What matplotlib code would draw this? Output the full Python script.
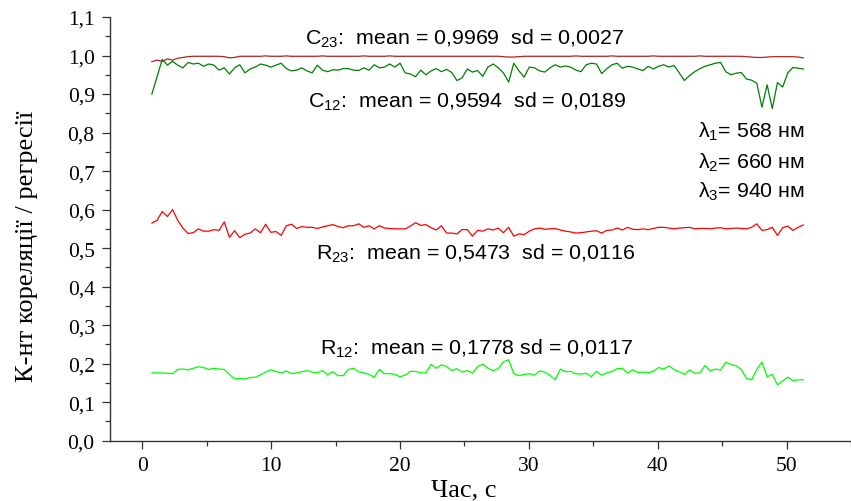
import numpy as np
import matplotlib.pyplot as plt
from matplotlib.ticker import MultipleLocator, FuncFormatter

plt.rcParams['font.family'] = ['Liberation Serif', 'DejaVu Serif']
plt.rcParams['mathtext.fontset'] = 'custom'
plt.rcParams['mathtext.rm'] = 'Liberation Sans'
plt.rcParams['mathtext.it'] = 'Liberation Sans:italic'

# correlation coefficient C23 (channels 2-3)
c23 = [0.984, 0.988, 0.985, 0.991, 0.988, 0.993, 0.995, 0.997, 0.998, 0.998,
       0.998, 0.998, 0.998, 0.998, 0.997, 0.994, 0.995, 0.998, 0.998, 0.998,
       0.998, 0.998, 0.999, 0.998, 0.998, 0.998, 0.999, 0.998, 0.998, 0.998,
       0.998, 0.998, 0.998, 0.999, 0.998, 0.998, 0.998, 0.998, 0.998, 0.998,
       0.998, 0.999, 0.998, 0.998, 0.998, 0.998, 0.999, 0.998, 0.998, 0.998,
       0.998, 0.998, 0.998, 0.998, 0.998, 0.998, 0.998, 0.998, 0.998, 0.998,
       0.998, 0.998, 0.998, 0.998, 0.998, 0.998, 0.998, 0.998, 0.997, 0.996,
       0.996, 0.997, 0.998, 0.998, 0.998, 0.998, 0.998, 0.998, 0.998, 0.998,
       0.998, 0.998, 0.999, 0.998, 0.998, 0.998, 0.998, 0.998, 0.998, 0.999,
       0.998, 0.998, 0.998, 0.998, 0.998, 0.998, 0.998, 0.999, 0.998, 0.998,
       0.998, 0.998, 0.998, 0.998, 0.998, 0.998, 0.999, 0.998, 0.998, 0.998,
       0.998, 0.998, 0.998, 0.998, 0.998, 0.997, 0.996, 0.995, 0.995, 0.996,
       0.997, 0.997, 0.997, 0.997, 0.997, 0.996, 0.994]

# correlation coefficient C12 (channels 1-2)
c12 = [0.900, 0.945, 0.990, 0.975, 0.985, 0.975, 0.968, 0.982, 0.978, 0.980,
       0.972, 0.978, 0.975, 0.962, 0.968, 0.952, 0.968, 0.976, 0.955, 0.965,
       0.970, 0.978, 0.975, 0.970, 0.975, 0.980, 0.966, 0.960, 0.962, 0.968,
       0.960, 0.955, 0.975, 0.962, 0.958, 0.963, 0.962, 0.966, 0.966, 0.962,
       0.961, 0.968, 0.962, 0.976, 0.968, 0.970, 0.978, 0.970, 0.980, 0.955,
       0.952, 0.945, 0.962, 0.950, 0.960, 0.966, 0.958, 0.964, 0.956, 0.935,
       0.942, 0.965, 0.957, 0.961, 0.946, 0.970, 0.978, 0.968, 0.955, 0.931,
       0.980, 0.960, 0.944, 0.970, 0.968, 0.960, 0.957, 0.968, 0.976, 0.970,
       0.973, 0.970, 0.962, 0.958, 0.976, 0.980, 0.978, 0.953, 0.966, 0.976,
       0.980, 0.967, 0.972, 0.970, 0.965, 0.961, 0.972, 0.965, 0.972, 0.976,
       0.970, 0.974, 0.955, 0.935, 0.948, 0.958, 0.966, 0.972, 0.976, 0.980,
       0.982, 0.958, 0.950, 0.954, 0.956, 0.939, 0.936, 0.928, 0.866, 0.924,
       0.862, 0.930, 0.918, 0.955, 0.969, 0.967, 0.965]

# regression coefficient R23
r23 = [0.565, 0.572, 0.595, 0.582, 0.600, 0.572, 0.552, 0.538, 0.540, 0.550,
       0.544, 0.544, 0.548, 0.546, 0.568, 0.528, 0.545, 0.527, 0.536, 0.539,
       0.550, 0.540, 0.562, 0.541, 0.543, 0.533, 0.558, 0.562, 0.551, 0.556,
       0.554, 0.554, 0.551, 0.555, 0.558, 0.561, 0.556, 0.553, 0.558, 0.558,
       0.563, 0.554, 0.558, 0.550, 0.558, 0.552, 0.551, 0.550, 0.550, 0.550,
       0.557, 0.566, 0.559, 0.561, 0.553, 0.547, 0.558, 0.539, 0.539, 0.537,
       0.548, 0.548, 0.531, 0.546, 0.544, 0.550, 0.547, 0.552, 0.540, 0.554,
       0.531, 0.537, 0.535, 0.544, 0.550, 0.552, 0.549, 0.550, 0.551, 0.547,
       0.544, 0.542, 0.539, 0.540, 0.542, 0.544, 0.545, 0.539, 0.546, 0.547,
       0.552, 0.547, 0.554, 0.549, 0.548, 0.550, 0.548, 0.551, 0.554, 0.554,
       0.552, 0.550, 0.552, 0.553, 0.554, 0.550, 0.551, 0.551, 0.550, 0.552,
       0.553, 0.550, 0.551, 0.552, 0.551, 0.550, 0.554, 0.563, 0.546, 0.548,
       0.554, 0.533, 0.553, 0.557, 0.546, 0.554, 0.560]

# regression coefficient R12
r12 = [0.176, 0.176, 0.176, 0.175, 0.174, 0.185, 0.186, 0.184, 0.188, 0.192,
       0.190, 0.185, 0.188, 0.186, 0.185, 0.172, 0.160, 0.162, 0.160, 0.164,
       0.165, 0.171, 0.178, 0.184, 0.180, 0.176, 0.181, 0.174, 0.176, 0.179,
       0.182, 0.178, 0.176, 0.182, 0.171, 0.179, 0.169, 0.169, 0.185, 0.188,
       0.179, 0.176, 0.172, 0.165, 0.185, 0.174, 0.174, 0.172, 0.166, 0.170,
       0.180, 0.180, 0.176, 0.176, 0.198, 0.188, 0.197, 0.193, 0.182, 0.187,
       0.178, 0.182, 0.176, 0.192, 0.199, 0.188, 0.182, 0.187, 0.205, 0.210,
       0.174, 0.169, 0.172, 0.174, 0.170, 0.181, 0.178, 0.170, 0.158, 0.186,
       0.179, 0.180, 0.174, 0.173, 0.175, 0.166, 0.180, 0.170, 0.176, 0.180,
       0.187, 0.188, 0.176, 0.184, 0.177, 0.178, 0.177, 0.180, 0.190, 0.186,
       0.194, 0.185, 0.179, 0.172, 0.184, 0.175, 0.176, 0.195, 0.181, 0.186,
       0.183, 0.204, 0.198, 0.194, 0.185, 0.162, 0.158, 0.185, 0.204, 0.166,
       0.172, 0.145, 0.155, 0.165, 0.156, 0.158, 0.158]

t_start, t_end = 0.75, 51.3

labels = [
    (12.65, 1.030, r'C$_{23}$:  mean = 0,9969  sd = 0,0027'),
    (12.88, 0.866, r'C$_{12}$:  mean = 0,9594  sd = 0,0189'),
    (13.50, 0.472, r'R$_{23}$:  mean = 0,5473  sd = 0,0116'),
    (13.80, 0.225, r'R$_{12}$:  mean = 0,1778 sd = 0,0117'),
    (43.10, 0.790, r'λ$_{1}$= 568 нм'),
    (43.10, 0.710, r'λ$_{2}$= 660 нм'),
    (43.10, 0.634, r'λ$_{3}$= 940 нм'),
]

fig = plt.figure(figsize=(8.51, 5.02), dpi=100)
ax = fig.add_axes([110 / 851, 60.3 / 502, 741 / 851, 423.7 / 502])

series = [(c23, '#b22222'), (c12, '#008000'), (r23, '#ff0000'), (r12, '#00ff00')]
for vals, col in series:
    t = np.linspace(t_start, t_end, len(vals))
    ax.plot(t, vals, color=col, lw=0.9)

for x, y, s in labels:
    ax.text(x, y, s, fontsize=15.4, family='Liberation Sans', ha='left', va='baseline')

ax.set_xlim(-2.5, 55)
ax.set_ylim(0, 1.1)
ax.xaxis.set_major_locator(MultipleLocator(10))
ax.xaxis.set_minor_locator(MultipleLocator(5))
ax.yaxis.set_major_locator(MultipleLocator(0.1))
ax.yaxis.set_minor_locator(MultipleLocator(0.05))
ax.yaxis.set_major_formatter(FuncFormatter(lambda v, p: f'{v:.1f}'.replace('.', ',')))
ax.xaxis.set_major_formatter(FuncFormatter(lambda v, p: f'{v:.0f}'))

for side in ['top', 'right']:
    ax.spines[side].set_visible(False)
for side in ['left', 'bottom']:
    ax.spines[side].set_linewidth(1.0)
    ax.spines[side].set_color('#333333')

ax.tick_params(which='major', direction='out', length=6, width=0.9, color='#333333',
               labelsize=15.5, pad=5)
ax.tick_params(which='minor', direction='out', length=3.5, width=0.9, color='#333333')

ax.set_xlabel('Час, с', fontsize=19)
ax.set_ylabel('К-нт кореляції / регресії', fontsize=19)
ax.xaxis.set_label_coords(0.478, -0.088)
ax.yaxis.set_label_coords(-0.097, 0.46)

fig.savefig('out.png', dpi=100)
